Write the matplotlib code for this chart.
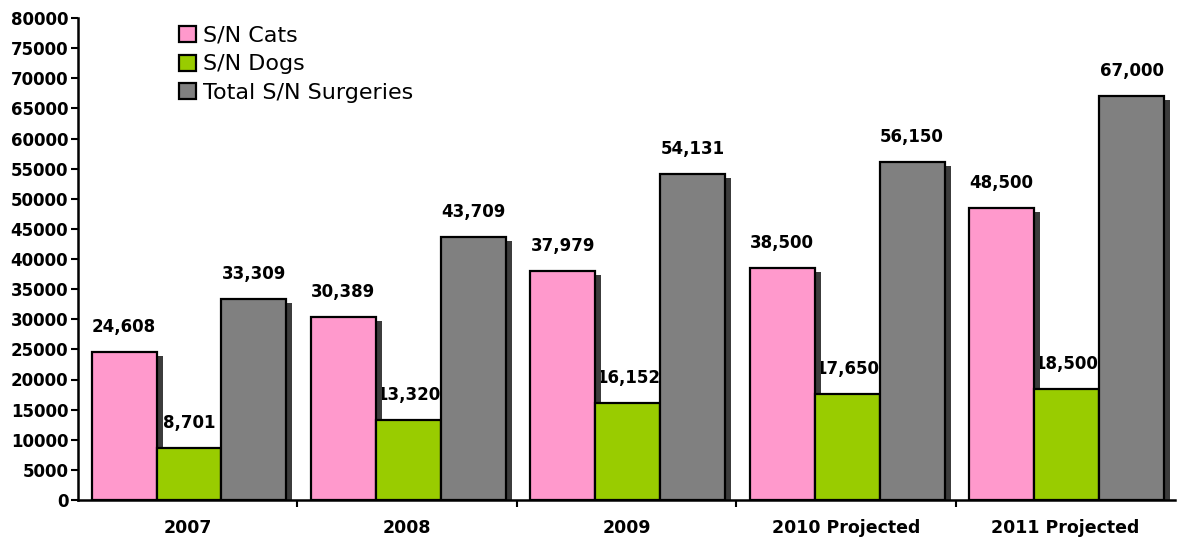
import numpy as np
import matplotlib.pyplot as plt
from matplotlib.ticker import MultipleLocator, FixedLocator

# data
years = ['2007', '2008', '2009', '2010 Projected', '2011 Projected']
cats = [24608, 30389, 37979, 38500, 48500]
dogs = [8701, 13320, 16152, 17650, 18500]
total = [33309, 43709, 54131, 56150, 67000]
series_names = ['S/N Cats', 'S/N Dogs', 'Total S/N Surgeries']
colors = ['#FF99CC', '#99CC00', '#808080']

plt.rcParams['font.family'] = ['DejaVu Sans']

fig = plt.figure(figsize=(11.77, 5.39), dpi=100)
ax = fig.add_axes([78/1177, 39/539, 1097/1177, 482/539])

x = np.arange(len(years))
w = 0.296
# shadow offsets in data units (about 6 px right, 4 px down)
dx = 6 / 219.4
dy = 4 / 482 * 80000

for k, (vals, col, name) in enumerate(zip([cats, dogs, total], colors, series_names)):
    pos = x + (k - 1) * w + 0.006
    vals = np.array(vals)
    ax.bar(pos + dx, vals - dy, w, color='#3c3c3c', zorder=3, linewidth=0)
    ax.bar(pos, vals, w, color=col, edgecolor='black', linewidth=1.6,
           zorder=3, label=name)
    for p, v in zip(pos, vals):
        ax.annotate(f'{v:,}', (p, v), xytext=(0, 20), textcoords='offset pixels',
                    ha='center', va='baseline', fontsize=12, fontweight='bold',
                    zorder=2)

ax.set_xlim(-0.5, len(years) - 0.5)
ax.set_ylim(0, 80000)
ax.yaxis.set_major_locator(MultipleLocator(5000))
ax.set_yticklabels([str(int(t)) for t in ax.get_yticks()])
ax.set_xticks(x)
ax.set_xticklabels(years)
ax.xaxis.set_minor_locator(FixedLocator(x[:-1] + 0.5))
ax.tick_params(axis='x', which='major', length=0, pad=14, labelsize=12.5)
ax.tick_params(axis='x', which='minor', length=5, width=1.5, direction='out')
ax.tick_params(axis='y', length=5, width=1.5, direction='out', pad=2, labelsize=12)
for lab in ax.get_xticklabels() + ax.get_yticklabels():
    lab.set_fontweight('bold')

for s in ['top', 'right']:
    ax.spines[s].set_visible(False)
for s in ['left', 'bottom']:
    ax.spines[s].set_linewidth(1.8)
    ax.spines[s].set_zorder(4)

leg = ax.legend(loc='upper left', bbox_to_anchor=(0.074, 1.025), frameon=False,
                handlelength=0.75, handleheight=0.75, handletextpad=0.3,
                labelspacing=0.38, prop={'family': 'DejaVu Sans', 'size': 16})

fig.savefig('out.png', dpi=100)
